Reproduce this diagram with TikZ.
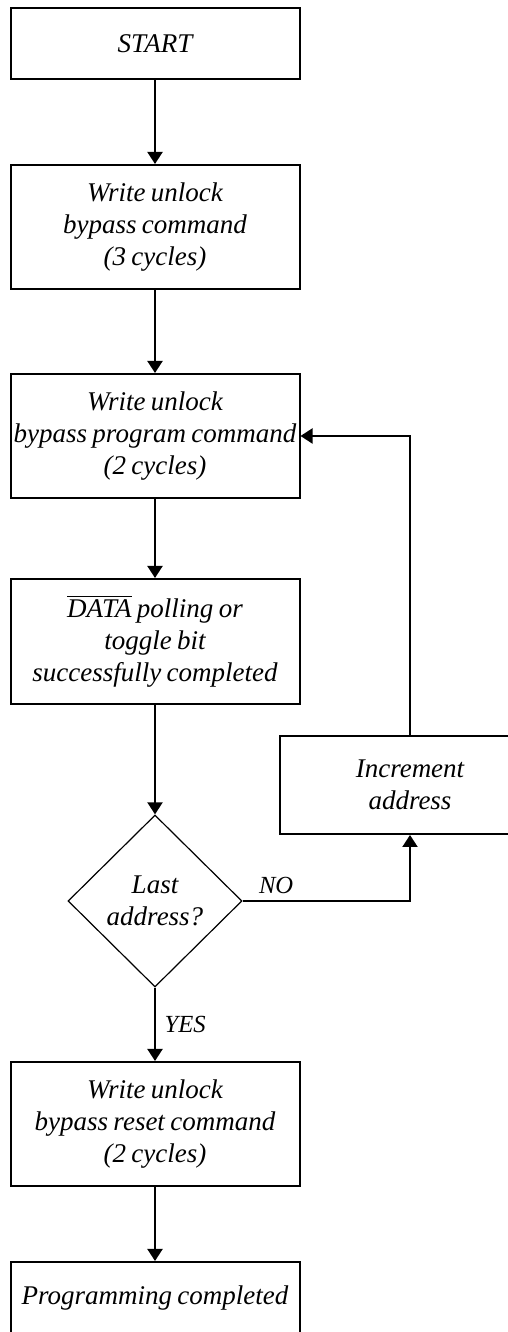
\documentclass[tikz,border=0pt]{standalone}
\usepackage{fontspec}
\setmainfont{Liberation Serif}
\usetikzlibrary{arrows.meta,shapes.geometric}
\newcommand\boxfont{\itshape\fontsize{13.5}{16}\selectfont\spaceskip 0.2em plus 0.05em\relax}
\begin{document}
\begin{tikzpicture}[>={Triangle[length=6pt,width=7.5pt]},x=0.5pt,y=0.5pt,
  font=\boxfont,
  blk/.style={draw,line width=1pt,align=center,minimum width=144.5pt,minimum height=62pt,inner sep=0pt},
  dec/.style={draw,diamond,line width=0.6pt,align=center,minimum width=87pt,minimum height=86pt,inner sep=0pt},
  lbl/.style={font=\itshape\fontsize{12.3}{14}\selectfont}]
\useasboundingbox (0,0) rectangle (508,1332);
\clip (0,0) rectangle (508,1332);
\node[blk,minimum height=35.5pt] (start) at (155,1288.5) {START};
\node[blk] (cmd) at (155,1105) {Write unlock\\bypass command\\(3 cycles)};
\node[blk] (prog) at (155,896) {Write unlock\\bypass program command\\(2 cycles)};
\node[blk,minimum height=62.5pt] (poll) at (155,690.5) {$\overline{\mbox{\itshape DATA}}$ polling or\\toggle bit\\successfully completed};
\node[dec] (last) at (155,431) {Last\\address?};
\node[blk,minimum width=130pt,minimum height=49pt] (incr) at (410,547) {Increment\\address};
\node[blk] (reset) at (155,208) {Write unlock\\bypass reset command\\(2 cycles)};
\node[blk,minimum height=36pt] (done) at (155,34) {Programming completed};
\draw[line width=1pt,->] (start) -- (cmd);
\draw[line width=1pt,->] (cmd) -- (prog);
\draw[line width=1pt,->] (prog) -- (poll);
\draw[line width=1pt,->] (poll) -- (last);
\draw[line width=1pt,->] (last.east) -| node[lbl,pos=0.1,above]{NO} (incr.south);
\draw[line width=1pt,->] (incr.north) |- (prog.east);
\draw[line width=1pt,->] (last) -- node[lbl,right,xshift=1pt]{YES} (reset);
\draw[line width=1pt,->] (reset) -- (done);
\end{tikzpicture}
\end{document}
